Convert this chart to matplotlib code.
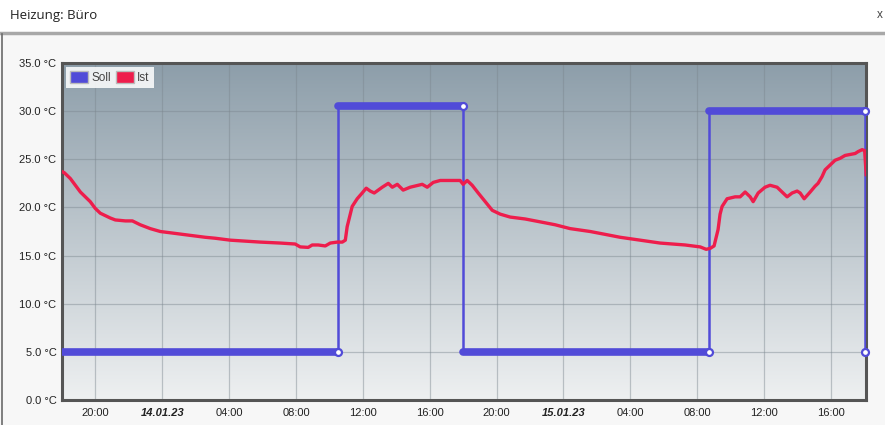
import numpy as np
import matplotlib
matplotlib.use("Agg")
import matplotlib.pyplot as plt
from matplotlib.patches import Patch, Rectangle
from matplotlib.lines import Line2D

# hours relative to 14.01.23 00:00
soll_hours = [-6.0, 10.53, 10.53, 18.0, 18.0, 32.72, 32.72, 42.05, 42.05]
soll_temp = [5.0, 5.0, 30.5, 30.5, 5.0, 5.0, 30.0, 30.0, 5.0]

ist_hours = [-5.98, -5.86, -5.50, -4.90, -4.31, -4.01, -3.71, -3.11, -2.81, -2.21, -1.79,
             -1.32, -0.72, -0.12, 0.78, 1.67, 2.57, 3.17, 4.07, 4.96, 5.86, 7.06, 7.95,
             8.25, 8.73, 8.97, 9.33, 9.75, 10.05, 10.47, 10.77, 10.95, 11.06, 11.36, 11.66,
             11.96, 12.20, 12.44, 12.68, 12.92, 13.16, 13.52, 13.76, 14.06, 14.41, 14.83,
             15.31, 15.55, 15.85, 16.21, 16.63, 17.05, 17.34, 17.82, 18.00, 18.24, 18.54,
             18.90, 19.32, 19.74, 20.22, 20.81, 21.71, 22.61, 23.50, 24.40, 25.60, 26.50,
             27.39, 28.59, 29.78, 31.28, 32.18, 32.54, 32.78, 33.01, 33.25, 33.37, 33.49,
             33.79, 34.27, 34.57, 34.87, 35.17, 35.35, 35.65, 36.06, 36.36, 36.78, 37.08,
             37.38, 37.68, 37.98, 38.16, 38.40, 38.76, 39.05, 39.23, 39.47, 39.65, 39.95,
             40.25, 40.55, 40.85, 41.15, 41.45, 41.63, 41.87, 42.02, 42.11]
ist_temp = [23.7, 23.6, 23.0, 21.6, 20.6, 19.9, 19.4, 18.9, 18.7, 18.6, 18.6,
            18.2, 17.8, 17.5, 17.3, 17.1, 16.9, 16.8, 16.6, 16.5, 16.4, 16.3, 16.2,
            15.9, 15.85, 16.1, 16.1, 16.0, 16.3, 16.4, 16.4, 16.6, 18.0, 20.1, 20.9,
            21.5, 22.0, 21.7, 21.5, 21.8, 22.1, 22.5, 22.1, 22.4, 21.8, 22.1,
            22.3, 22.4, 22.1, 22.6, 22.8, 22.8, 22.8, 22.8, 22.4, 22.8, 22.3,
            21.5, 20.6, 19.7, 19.3, 19.0, 18.8, 18.5, 18.2, 17.8, 17.5, 17.2,
            16.9, 16.6, 16.3, 16.1, 15.9, 15.65, 15.75, 16.0, 17.7, 19.3, 20.1,
            20.9, 21.1, 21.1, 21.6, 21.1, 20.6, 21.5, 22.1, 22.3, 22.1, 21.6,
            21.1, 21.5, 21.7, 21.5, 20.9, 21.6, 22.2, 22.5, 23.2, 23.9, 24.4,
            24.9, 25.1, 25.4, 25.5, 25.6, 25.8, 26.0, 25.9, 23.4]

x_ticks = [-4, 0, 4, 8, 12, 16, 20, 24, 28, 32, 36, 40]
x_labels = ["20:00", "14.01.23", "04:00", "08:00", "12:00", "16:00",
            "20:00", "15.01.23", "04:00", "08:00", "12:00", "16:00"]
y_ticks = [0, 5, 10, 15, 20, 25, 30, 35]

SOLL = "#514bd8"
IST = "#ee1d4c"

plt.rcParams["font.family"] = ["Liberation Sans", "DejaVu Sans"]

fig = plt.figure(figsize=(8.85, 4.25), dpi=100)
fig.patch.set_facecolor("white")

# dialog chrome: title bar, separator, light panel
fig.add_artist(Rectangle((0, 0), 1, 1 - 35 / 425, transform=fig.transFigure,
                         facecolor="#f7f7f7", edgecolor="none", zorder=-5))
fig.add_artist(Line2D([0, 1], [1 - 33 / 425] * 2, transform=fig.transFigure,
                      color="#a8a8a8", lw=2.5))
fig.add_artist(Line2D([2 / 885] * 2, [0, 1 - 34 / 425], transform=fig.transFigure,
                      color="#6a6a6a", lw=1.2))
fig.text(10 / 885, 1 - 15 / 425, "Heizung: Büro", fontsize=9.5, color="#222222",
         va="center", ha="left", family="Open Sans")
fig.text(877 / 885, 1 - 15 / 425, "x", fontsize=8.5, color="#444444",
         va="center", ha="left")

ax = fig.add_axes([62 / 885, 1 - 400 / 425, (866 - 62) / 885, (400 - 63) / 425])

# vertical gradient background
top = np.array([0x8d, 0x9e, 0xaa]) / 255
bot = np.array([0xee, 0xf0, 0xf1]) / 255
t = np.linspace(0, 1, 256)[:, None]
grad = (top * (1 - t) + bot * t)[:, None, :]
ax.imshow(grad, aspect="auto", extent=[0, 1, 0, 1], transform=ax.transAxes,
          zorder=-2, interpolation="bicubic")

ax.set_xlim(-6.0, 42.1)
ax.set_ylim(0, 35)
ax.set_xticks(x_ticks)
ax.set_xticklabels(x_labels)
ax.set_yticks(y_ticks)
ax.set_yticklabels([f"{v:.1f} °C" for v in y_ticks])
ax.tick_params(length=0, labelsize=8, labelcolor="#222222")
ax.tick_params(axis="x", pad=6)
ax.tick_params(axis="y", pad=4)
for lbl in ax.get_xticklabels():
    if "." in lbl.get_text():
        lbl.set_fontweight("bold")
        lbl.set_fontstyle("italic")
ax.grid(True, color="#7c878f", alpha=0.45, lw=0.9)
ax.set_axisbelow(True)
for s in ax.spines.values():
    s.set_color("#555555")
    s.set_linewidth(2.2)

# Soll: thin step line, thick horizontal runs, hollow end markers
ax.plot(soll_hours, soll_temp, color=SOLL, lw=1.8, zorder=3)
for i in range(len(soll_hours) - 1):
    if soll_temp[i] == soll_temp[i + 1]:
        ax.plot(soll_hours[i:i + 2], soll_temp[i:i + 2], color=SOLL, lw=5.5,
                solid_capstyle="round", zorder=3)
ends = [1, 3, 5, 7, 8]
ax.plot([soll_hours[i] for i in ends], [soll_temp[i] for i in ends], "o",
        ms=5, mfc="white", mec=SOLL, mew=1.6, zorder=5, clip_on=False)

ax.plot(ist_hours, ist_temp, color=IST, lw=2.4, zorder=4, solid_joinstyle="round")

handles = [Patch(facecolor=SOLL, edgecolor="#bbbbbb", lw=1),
           Patch(facecolor=IST, edgecolor="#bbbbbb", lw=1)]
leg = ax.legend(handles, ["Soll", "Ist"], loc="upper left", ncol=2, fontsize=8.5,
                frameon=True, fancybox=False, framealpha=0.85, edgecolor="none",
                handlelength=1.5, handleheight=1.2, handletextpad=0.3,
                columnspacing=0.4, borderpad=0.35, borderaxespad=0.35)
for txt in leg.get_texts():
    txt.set_color("#444444")

fig.savefig("out.png", dpi=100)
